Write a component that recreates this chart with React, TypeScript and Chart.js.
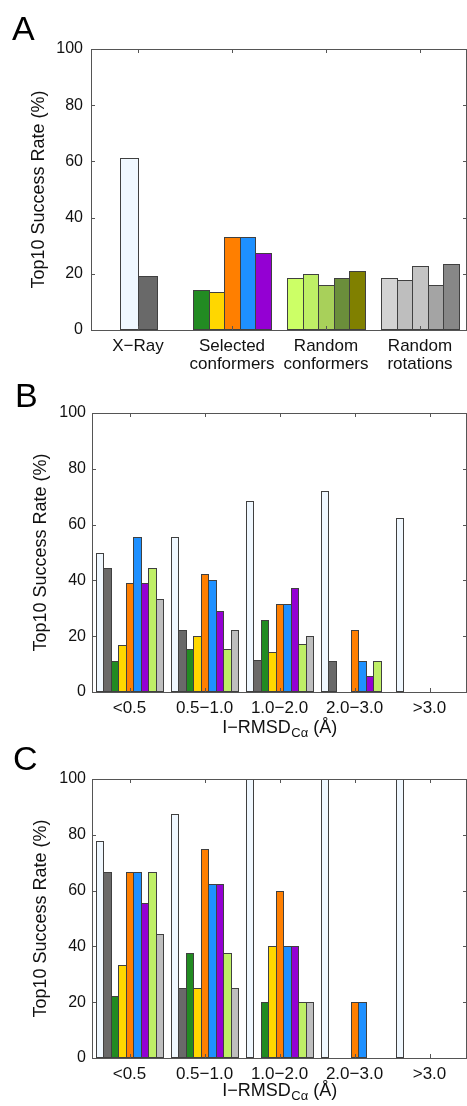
import React, { useEffect, useRef } from 'react';
import { Chart, registerables } from 'chart.js';

Chart.register(...registerables);

const FONT = "'Liberation Sans', Arial, Helvetica, sans-serif";

// ---- shared text ----
const yTitle = 'Top10 Success Rate (%)';
const xTitleMain = 'I\u2212RMSD';
const xTitleSub = 'C\u03b1';
const xTitleEnd = ' (\u00c5)';

// ---- Panel A ----
const catsA = [['X\u2212Ray'], ['Selected', 'conformers'], ['Random', 'conformers'], ['Random', 'rotations']];
const xrayA = [61.3, 19.3];
const selectedA = [14.4, 13.6, 33.1, 33.1, 27.4];
const randConfA = [18.5, 20.0, 16.0, 18.5, 20.9];
const randRotA = [18.5, 17.7, 22.7, 16.1, 23.4];

const xrayColors = ['#f0f8ff', '#696969'];
const selectedColors = ['#228b22', '#ffd700', '#ff7f00', '#1e90ff', '#9400d3'];
const randConfColors = ['#ccff66', '#bfef66', '#a8d05a', '#6b8e3b', '#808000'];
const randRotColors = ['#d3d3d3', '#bebebe', '#c4c4c4', '#a4a4a4', '#878787'];

// ---- Panels B and C ----
const binCats = ['<0.5', '0.5\u22121.0', '1.0\u22122.0', '2.0\u22123.0', '>3.0'];
const seriesNames = ['X-Ray (1)', 'X-Ray (2)', 'Selected 1', 'Selected 2', 'Selected 3', 'Selected 4', 'Selected 5', 'Random conformers', 'Random rotations'];
const seriesColors = ['#f0f8ff', '#696969', '#228b22', '#ffd700', '#ff7f00', '#1e90ff', '#9400d3', '#bfef66', '#bebebe'];

const xray1B = [50.0, 55.6, 68.6, 72.2, 62.5];
const xray2B = [44.4, 22.2, 11.4, 11.1, 0];
const sel1B = [11.1, 15.5, 25.7, 0, 0];
const sel2B = [16.7, 20.0, 14.3, 0, 0];
const sel3B = [38.9, 42.2, 31.4, 22.2, 0];
const sel4B = [55.6, 40.0, 31.4, 11.1, 0];
const sel5B = [38.9, 28.9, 37.1, 5.6, 0];
const randConfB = [44.4, 15.5, 17.1, 11.1, 0];
const randRotB = [33.3, 22.2, 20.0, 0, 0];

const xray1C = [77.8, 87.5, 100, 100, 100];
const xray2C = [66.7, 25.0, 0, 0, 0];
const sel1C = [22.2, 37.5, 20.0, 0, 0];
const sel2C = [33.3, 25.0, 40.0, 0, 0];
const sel3C = [66.7, 75.0, 60.0, 20.0, 0];
const sel4C = [66.7, 62.5, 40.0, 20.0, 0];
const sel5C = [55.6, 62.5, 40.0, 0, 0];
const randConfC = [66.7, 37.5, 20.0, 0, 0];
const randRotC = [44.4, 25.0, 20.0, 0, 0];

const seriesB = [xray1B, xray2B, sel1B, sel2B, sel3B, sel4B, sel5B, randConfB, randRotB];
const seriesC = [xray1C, xray2C, sel1C, sel2C, sel3C, sel4C, sel5C, randConfC, randRotC];

const BAR_BORDER = '#404040';
const FRAME = '#555555';
const TEXT = '#111111';

// Snap bar edges (computed by the scales) to whole pixels so outlines stay crisp,
// letting neighbours share one outline pixel.
const snapPlugin = {
  id: 'snapBars',
  afterUpdate(chart: any) {
    chart.data.datasets.forEach((_d: any, di: number) => {
      chart.getDatasetMeta(di).data.forEach((el: any) => {
        el.$snapped = false;
      });
    });
  },
  beforeDatasetsDraw(chart: any) {
    chart.data.datasets.forEach((_d: any, di: number) => {
      chart.getDatasetMeta(di).data.forEach((el: any) => {
        if (el.$snapped) return;
        if (!isFinite(el.x) || !isFinite(el.y) || !isFinite(el.width) || !isFinite(el.base)) return;
        const l = Math.round(el.x - el.width / 2);
        const r = Math.round(el.x + el.width / 2) + 1;
        el.x = (l + r) / 2;
        el.width = r - l;
        el.y = Math.round(el.y);
        el.base = Math.round(el.base);
        el.$snapped = true;
      });
    });
  },
};

const framePlugin = {
  id: 'frame',
  afterDatasetsDraw(chart: any) {
    const { ctx, chartArea } = chart;
    const { left, right, top, bottom } = chartArea;
    const x = chart.scales.x;
    const y = chart.scales.y;
    const L = 4;
    ctx.save();
    ctx.strokeStyle = FRAME;
    ctx.lineWidth = 1;
    ctx.beginPath();
    x.ticks.forEach((_t: any, i: number) => {
      const px = Math.round(x.getPixelForTick(i)) + 0.5;
      ctx.moveTo(px, top);
      ctx.lineTo(px, top + L);
      ctx.moveTo(px, bottom);
      ctx.lineTo(px, bottom - L);
    });
    y.ticks.forEach((t: any) => {
      const py = Math.round(y.getPixelForValue(t.value)) + 0.5;
      ctx.moveTo(left, py);
      ctx.lineTo(left + L, py);
      ctx.moveTo(right, py);
      ctx.lineTo(right - L, py);
    });
    ctx.stroke();
    ctx.strokeRect(Math.round(left) + 0.5, Math.round(top) + 0.5, Math.round(right - left) - 1, Math.round(bottom - top));
    ctx.restore();
  },
};

const letterPlugin = {
  id: 'panelLetter',
  afterDraw(chart: any, _args: any, opts: any) {
    if (!opts || !opts.text) return;
    const { ctx } = chart;
    ctx.save();
    ctx.fillStyle = '#000';
    ctx.font = `${opts.size}px ${FONT}`;
    ctx.textAlign = 'left';
    ctx.textBaseline = 'alphabetic';
    ctx.fillText(opts.text, opts.x, opts.y);
    ctx.restore();
  },
};

const subTitlePlugin = {
  id: 'xTitleSub',
  afterDraw(chart: any, _args: any, opts: any) {
    if (!opts || !opts.show) return;
    const { ctx, chartArea } = chart;
    const cx = (chartArea.left + chartArea.right) / 2;
    const by = chartArea.bottom + opts.offset;
    const fMain = `18px ${FONT}`;
    const fSub = `13px ${FONT}`;
    ctx.save();
    ctx.fillStyle = TEXT;
    ctx.textAlign = 'left';
    ctx.textBaseline = 'alphabetic';
    ctx.font = fMain;
    const w1 = ctx.measureText(xTitleMain).width;
    const w3 = ctx.measureText(xTitleEnd).width;
    ctx.font = fSub;
    const w2 = ctx.measureText(xTitleSub).width;
    let x = cx - (w1 + w2 + w3) / 2;
    ctx.font = fMain;
    ctx.fillText(xTitleMain, x, by);
    x += w1;
    ctx.font = fSub;
    ctx.fillText(xTitleSub, x + 0.5, by + 4);
    x += w2 + 0.5;
    ctx.font = fMain;
    ctx.fillText(xTitleEnd, x, by);
    ctx.restore();
  },
};

type PanelGeom = {
  height: number;
  top: number;
  yWidth: number;
  xHeight: number;
  yLabelPad: number;
  titleCenter: number;
  letter: string;
  letterX: number;
  letterY: number;
  subTitleOffset: number | null;
};

function makeOptions(g: PanelGeom, labelLineHeight: number, xTickPad: number): any {
  return {
    responsive: false,
    animation: false,
    events: [],
    layout: { padding: { top: g.top, left: 0, right: 0, bottom: 0 } },
    plugins: {
      legend: { display: false },
      tooltip: { enabled: false },
      title: { display: false },
      panelLetter: { text: g.letter, x: g.letterX, y: g.letterY, size: 34 },
      xTitleSub: g.subTitleOffset === null ? { show: false } : { show: true, offset: g.subTitleOffset },
    },
    scales: {
      x: {
        type: 'category',
        offset: true,
        grid: { display: false, drawTicks: false },
        border: { display: false },
        ticks: {
          color: TEXT,
          padding: xTickPad,
          maxRotation: 0,
          autoSkip: false,
          font: { family: FONT, size: 17, lineHeight: labelLineHeight },
        },
        afterFit: (s: any) => {
          s.height = g.xHeight;
        },
      },
      y: {
        type: 'linear',
        min: 0,
        max: 100,
        grid: { display: false, drawTicks: false },
        border: { display: false },
        ticks: {
          stepSize: 20,
          color: TEXT,
          padding: g.yLabelPad,
          font: { family: FONT, size: 16 },
        },
        title: {
          display: true,
          text: yTitle,
          color: TEXT,
          font: { family: FONT, size: 18, lineHeight: 1.2 },
          padding: { top: g.titleCenter - 10.8, bottom: 0 },
        },
        afterFit: (s: any) => {
          s.width = g.yWidth;
        },
      },
    },
  };
}

const PLUGINS = [snapPlugin, framePlugin, letterPlugin, subTitlePlugin];

function buildA(): any {
  const g: PanelGeom = {
    height: 375, top: 49, yWidth: 91, xHeight: 45, yLabelPad: 8,
    titleCenter: 39, letter: 'A', letterX: 12, letterY: 40, subTitleOffset: null,
  };
  const datasets: any[] = [];
  xrayA.forEach((v, i) => {
    datasets.push({
      label: `X-Ray ${i + 1}`,
      data: [v, null, null, null],
      backgroundColor: xrayColors[i],
      borderColor: BAR_BORDER,
      borderWidth: 1,
      borderSkipped: false,
      inflateAmount: 0,
      barThickness: 18.5,
      skipNull: true,
    });
  });
  selectedA.forEach((v, i) => {
    datasets.push({
      label: `Conformer set ${i + 1}`,
      data: [null, v, randConfA[i], randRotA[i]],
      backgroundColor: ['rgba(0,0,0,0)', selectedColors[i], randConfColors[i], randRotColors[i]],
      borderColor: BAR_BORDER,
      borderWidth: 1,
      borderSkipped: false,
      inflateAmount: 0,
      barThickness: 15.6,
      skipNull: true,
    });
  });
  return {
    geom: g,
    config: {
      type: 'bar',
      data: { labels: catsA, datasets },
      options: makeOptions(g, 1.06, 7),
      plugins: PLUGINS,
    },
  };
}

function buildBin(series: number[][], g: PanelGeom): any {
  const datasets = series.map((vals, i) => ({
    label: seriesNames[i],
    data: vals,
    backgroundColor: seriesColors[i],
    borderColor: BAR_BORDER,
    borderWidth: 1,
    borderSkipped: false,
    inflateAmount: 0,
    categoryPercentage: 0.9,
    barPercentage: 1.0,
  }));
  return {
    geom: g,
    config: {
      type: 'bar',
      data: { labels: binCats, datasets },
      options: makeOptions(g, 1.2, 6),
      plugins: PLUGINS,
    },
  };
}

function buildB(): any {
  return buildBin(seriesB, {
    height: 365, top: 38, yWidth: 92, xHeight: 48, yLabelPad: 6,
    titleCenter: 41, letter: 'B', letterX: 15, letterY: 32, subTitleOffset: 41,
  });
}

function buildC(): any {
  return buildBin(seriesC, {
    height: 366, top: 39, yWidth: 92, xHeight: 48, yLabelPad: 6,
    titleCenter: 41.5, letter: 'C', letterX: 13, letterY: 30, subTitleOffset: 38,
  });
}

function Panel({ build, top }: { build: () => any; top: number }) {
  const ref = useRef<HTMLCanvasElement | null>(null);
  const built = build();
  useEffect(() => {
    if (!ref.current) return;
    const chart = new Chart(ref.current, built.config);
    return () => chart.destroy();
  }, []);
  return (
    <canvas
      ref={ref}
      width={467}
      height={built.geom.height}
      style={{ position: 'absolute', left: 0, top, width: 467, height: built.geom.height, display: 'block' }}
    />
  );
}

export default function App() {
  return (
    <div style={{ position: 'absolute', left: 0, top: 0, width: 467, height: 1106, background: '#ffffff', overflow: 'hidden' }}>
      <Panel build={buildA} top={0} />
      <Panel build={buildB} top={375} />
      <Panel build={buildC} top={740} />
    </div>
  );
}
